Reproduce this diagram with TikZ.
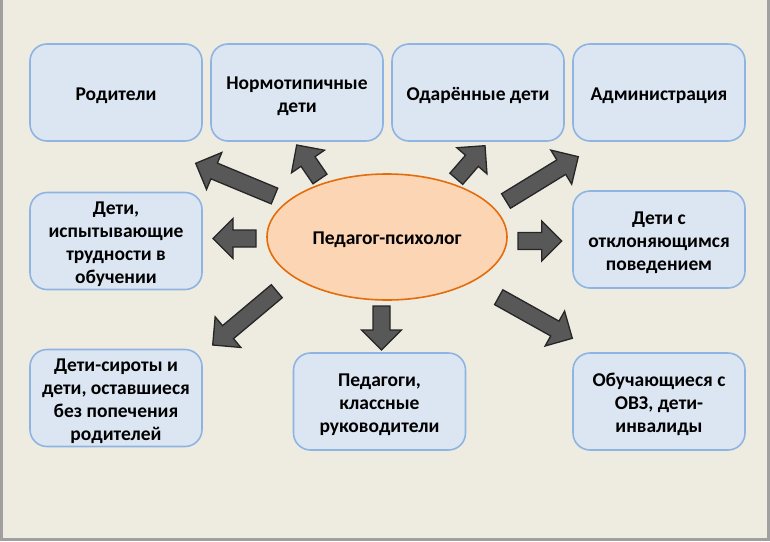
\documentclass[tikz,border=0pt]{standalone}
\usepackage{fontspec}
\setmainfont{Carlito}
\usetikzlibrary{calc,shapes.geometric}
\definecolor{bgc}{HTML}{EEECE1}
\definecolor{framec}{HTML}{A0A0A0}
\definecolor{boxfill}{HTML}{DCE6F2}
\definecolor{boxline}{HTML}{8EB4E3}
\definecolor{ellfill}{HTML}{FCD5B5}
\definecolor{ellline}{HTML}{E46C0A}
\definecolor{arrfill}{HTML}{585858}
\definecolor{arrline}{HTML}{262626}
\newcommand\tstrut{\rule{0pt}{20pt}}
\tikzset{
  box/.style={draw=boxline, fill=boxfill, line width=1.6pt, rounded corners=17pt,
    minimum width=172pt, minimum height=97pt, inner sep=0pt, align=center,
    font=\fontsize{19.5}{23}\selectfont\bfseries},
  ell/.style={ellipse, draw=ellline, fill=ellfill, line width=1.6pt,
    minimum width=240pt, minimum height=126pt, inner sep=0pt, align=center,
    font=\fontsize{19.5}{23}\selectfont\bfseries},
  blockarr/.style={draw=arrline, fill=arrfill, line width=1.3pt, line join=miter}
}
\newcommand\blockarrow[3]{%
  \coordinate (#3h) at ($(#2)!20pt!(#1)$);
  \draw[blockarr] ($(#1)!8.5pt!90:(#2)$) -- ($(#3h)!8.5pt!90:(#2)$) -- ($(#3h)!20pt!90:(#2)$)
    -- (#2) -- ($(#3h)!20pt!-90:(#2)$) -- ($(#3h)!8.5pt!-90:(#2)$) -- ($(#1)!8.5pt!-90:(#2)$) -- cycle;
}
\begin{document}
\begin{tikzpicture}[x=1pt,y=-1pt]
\useasboundingbox (0,0) rectangle (770,541);
\fill[bgc] (0,0) rectangle (770,541);
\fill[framec] (0,0) rectangle (3,541);
\fill[framec] (767,0) rectangle (770,541);
\fill[framec] (0,538) rectangle (770,541);

\node[box] (rod) at (116,92.5) {\tstrut Родители};
\node[box] (norm) at (297,92.5) {\tstrut Нормотипичные\\дети};
\node[box] (odar) at (478,92.5) {\tstrut Одарённые дети};
\node[box] (adm) at (659,92.5) {\tstrut Администрация};
\node[box] (trud) at (116,241) {\tstrut Дети,\\испытывающие\\трудности в\\обучении};
\node[box] (otkl) at (659,239.5) {\tstrut Дети с\\отклоняющимся\\поведением};
\node[box] (sir) at (116,398) {\tstrut Дети-сироты и\\дети, оставшиеся\\без попечения\\родителей};
\node[box] (ped) at (379.5,401.5) {\tstrut Педагоги,\\классные\\руководители};
\node[box] (ovz) at (659,401.5) {\tstrut Обучающиеся с\\ОВЗ, дети-\\инвалиды};

\node[ell] (pp) at (387,237) {\rule{0pt}{18.5pt}Педагог-психолог};

\coordinate (t1) at (274.5,196);   \coordinate (p1) at (195.7,163.3);
\coordinate (t2) at (320,179);     \coordinate (p2) at (296.7,145);
\coordinate (t3) at (456.3,178.8); \coordinate (p3) at (485,145.7);
\coordinate (t4) at (506,201);     \coordinate (p4) at (578.3,156.7);
\coordinate (t5) at (256,238.5);   \coordinate (p5) at (213,238.5);
\coordinate (t6) at (518,241);     \coordinate (p6) at (561.7,241);
\coordinate (t7) at (276.8,291.2); \coordinate (p7) at (212.7,345);
\coordinate (t8) at (381.5,306);   \coordinate (p8) at (381.5,350);
\coordinate (t9) at (498.7,297.2); \coordinate (p9) at (572.3,338.3);

\blockarrow{t1}{p1}{a1}
\blockarrow{t2}{p2}{a2}
\blockarrow{t3}{p3}{a3}
\blockarrow{t4}{p4}{a4}
\blockarrow{t5}{p5}{a5}
\blockarrow{t6}{p6}{a6}
\blockarrow{t7}{p7}{a7}
\blockarrow{t8}{p8}{a8}
\blockarrow{t9}{p9}{a9}
\end{tikzpicture}
\end{document}
